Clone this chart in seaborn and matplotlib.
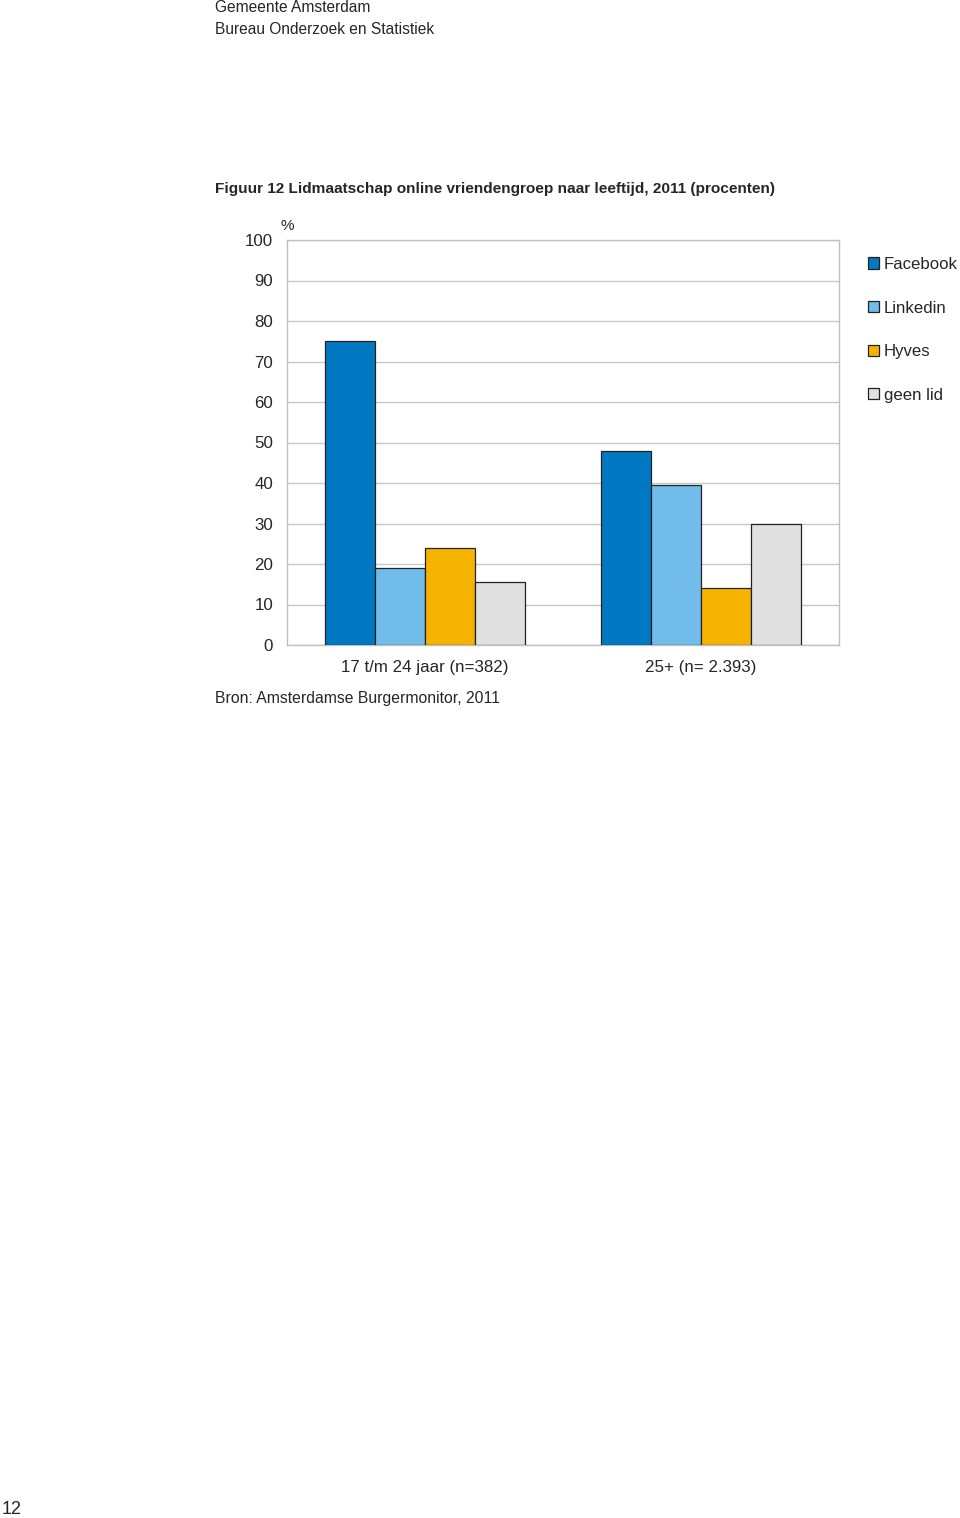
import pandas as pd
import seaborn as sns
import matplotlib.pyplot as plt

groups = ["17 t/m 24 jaar (n=382)", "25+ (n= 2.393)"]
networks = ["Facebook", "Linkedin", "Hyves", "geen lid"]
facebook = [75, 48]
linkedin = [19, 39.5]
hyves = [24, 14]
geen_lid = [15.5, 30]
colors = ["#0079C2", "#72BCEB", "#F5B300", "#E0E0E0"]

rows = []
for net, vals in zip(networks, [facebook, linkedin, hyves, geen_lid]):
    for g, v in zip(groups, vals):
        rows.append({"groep": g, "netwerk": net, "pct": v})
df = pd.DataFrame(rows)

sns.set_style("white")
plt.rcParams["font.family"] = ["Liberation Sans", "DejaVu Sans"]

fig = plt.figure(figsize=(9.6, 15.18), dpi=100)
ax = fig.add_axes([287 / 960, 1 - 645 / 1518, 552 / 960, 405 / 1518])

sns.barplot(data=df, x="groep", y="pct", hue="netwerk", order=groups,
            hue_order=networks, palette=colors, width=0.725,
            edgecolor="#222222", linewidth=0.9, saturation=1, ax=ax, zorder=3)

ax.set_ylim(0, 100)
ax.set_xlim(-0.5, 1.5)
ax.set_yticks(range(0, 101, 10))
ax.yaxis.grid(True, color="#C8C8C8", linewidth=1, zorder=0)
ax.set_axisbelow(True)
for s in ax.spines.values():
    s.set_color("#C0C0C0")
    s.set_linewidth(1)
ax.tick_params(axis="y", length=0, pad=10, labelsize=12.2)
ax.tick_params(axis="x", length=0, pad=11, labelsize=12.2)
ax.set_xlabel("")
ax.set_ylabel("")
ax.text(0, 1.018, "%", transform=ax.transAxes, fontsize=11, ha="center", va="bottom")

ax.legend_.remove()
handles, labels = ax.get_legend_handles_labels()
fig.legend(handles, labels, loc="upper left",
           bbox_to_anchor=(868 / 960, 1 - 257 / 1518), frameon=False,
           fontsize=12.1, handlelength=0.65, handleheight=0.65,
           handletextpad=0.3, labelspacing=1.7, borderpad=0, borderaxespad=0)

fig.text(215 / 960, 1 - 8 / 1518, "Gemeente Amsterdam", fontsize=11.2, va="center")
fig.text(215 / 960, 1 - 30 / 1518, "Bureau Onderzoek en Statistiek", fontsize=11.2, va="center")
fig.text(215 / 960, 1 - 189 / 1518,
         "Figuur 12 Lidmaatschap online vriendengroep naar leeftijd, 2011 (procenten)",
         fontsize=11.1, fontweight="bold", va="center")
fig.text(215 / 960, 1 - 698 / 1518, "Bron: Amsterdamse Burgermonitor, 2011",
         fontsize=11.3, va="center")
fig.text(2 / 960, 1 - 1509 / 1518, "12", fontsize=13, va="center")

fig.savefig("out.png", dpi=100)
